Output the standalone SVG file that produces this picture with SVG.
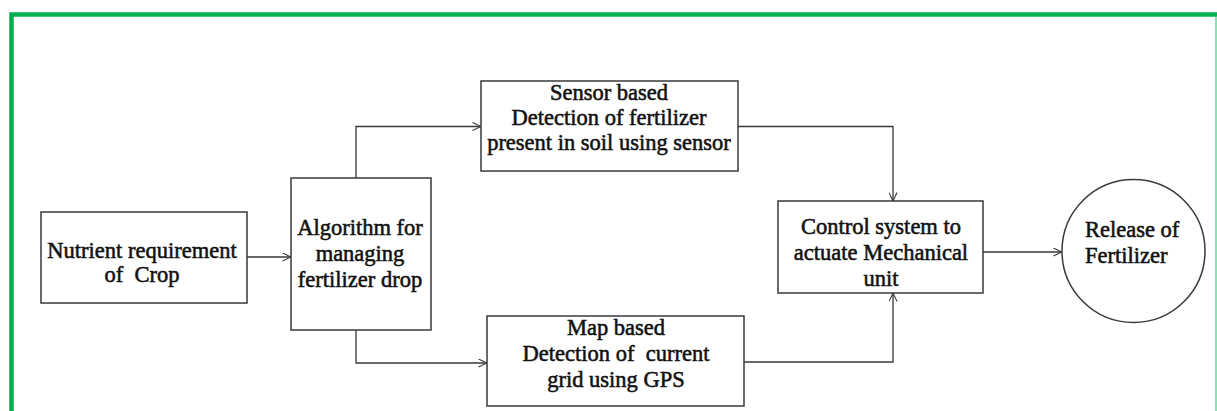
<svg xmlns="http://www.w3.org/2000/svg" width="1217" height="411" viewBox="0 0 1217 411">
  <style>
    .box { fill: #ffffff; stroke: #3a3a3a; stroke-width: 1.5; }
    .wire { fill: none; stroke: #3a3a3a; stroke-width: 1.3; }
    text { font-family: "Liberation Serif", "Times New Roman", serif; font-size: 22.5px; fill: #111111; stroke: #111111; stroke-width: 0.55; text-anchor: middle; }
    text.lbl-left { text-anchor: start; }
  </style>
  <defs>
    <marker id="open-arrow" viewBox="0 0 10 10" refX="9.5" refY="5" markerWidth="9" markerHeight="9" markerUnits="userSpaceOnUse" orient="auto">
      <path d="M0,0.5 L9.5,5 L0,9.5" fill="none" stroke="#3a3a3a" stroke-width="1.2"/>
    </marker>
  </defs>

  <rect width="1217" height="411" fill="#ffffff"/>

  <!-- green frame -->
  <g id="frame">
    <path d="M11.5,420 V14.5 H1217" fill="none" stroke="#00b050" stroke-width="4.5"/>
    <line x1="1216" y1="17" x2="1216" y2="411" stroke="#5fd99b" stroke-width="1.5"/>
  </g>

  <!-- connectors -->
  <g id="connectors">
    <line class="wire" x1="247" y1="257" x2="291" y2="257" marker-end="url(#open-arrow)"/>
    <polyline class="wire" points="356,178 356,126.5 481,126.5" marker-end="url(#open-arrow)"/>
    <polyline class="wire" points="356,330 356,363 487,363" marker-end="url(#open-arrow)"/>
    <polyline class="wire" points="738,126.5 893,126.5 893,201" marker-end="url(#open-arrow)"/>
    <polyline class="wire" points="744,362 893,362 893,293" marker-end="url(#open-arrow)"/>
    <line class="wire" x1="983" y1="252" x2="1062" y2="252" marker-end="url(#open-arrow)"/>
  </g>

  <g id="nutrient">
    <rect class="box" x="41" y="212" width="206" height="91"/>
    <text x="142" y="258">Nutrient requirement</text>
    <text x="142" y="282" xml:space="preserve">of  Crop</text>
  </g>

  <g id="algorithm">
    <rect class="box" x="291" y="178" width="140" height="152"/>
    <text x="360" y="235">Algorithm for</text>
    <text x="360" y="261">managing</text>
    <text x="360" y="287">fertilizer drop</text>
  </g>

  <g id="sensor">
    <rect class="box" x="481" y="81" width="257" height="90"/>
    <text x="609" y="100">Sensor based</text>
    <text x="609" y="125">Detection of fertilizer</text>
    <text x="609" y="150">present in soil using sensor</text>
  </g>

  <g id="map">
    <rect class="box" x="487" y="316" width="257" height="90"/>
    <text x="616" y="335">Map based</text>
    <text x="616" y="361" xml:space="preserve">Detection of  current</text>
    <text x="616" y="387">grid using GPS</text>
  </g>

  <g id="control">
    <rect class="box" x="778" y="201" width="205" height="92"/>
    <text x="881" y="234">Control system to</text>
    <text x="881" y="260">actuate Mechanical</text>
    <text x="881" y="286">unit</text>
  </g>

  <g id="release">
    <circle class="box" cx="1133.5" cy="251" r="71.5"/>
    <text class="lbl-left" x="1085" y="237">Release of</text>
    <text class="lbl-left" x="1085" y="263">Fertilizer</text>
  </g>
</svg>
